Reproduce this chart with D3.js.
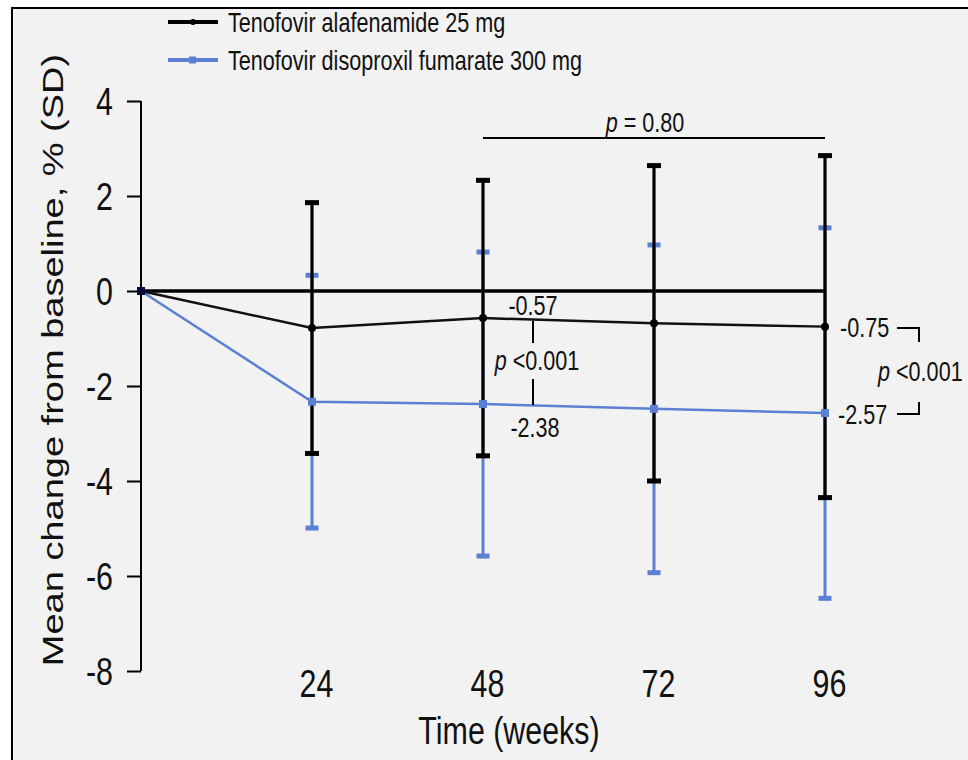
<!DOCTYPE html>
<html>
<head>
<meta charset="utf-8">
<script src="https://cdn.jsdelivr.net/npm/d3@7"></script>
<style>
  body { margin: 0; background: #fff; }
  text { font-family: "Liberation Sans", Arial, sans-serif; fill: #111; }
</style>
</head>
<body>
<div class="chart_wrapper"></div>
<script>
// weeks on treatment and mean % change (SD) per arm
var weeks = [0, 24, 48, 72, 96];
var tafMean = [0, -0.78, -0.57, -0.68, -0.75];
var tafSD = [0, 2.64, 2.9, 3.32, 3.6];
var tdfMean = [0, -2.33, -2.38, -2.48, -2.57];
var tdfSD = [0, 2.66, 3.2, 3.45, 3.9];
var seriesNames = ['Tenofovir alafenamide 25 mg', 'Tenofovir disoproxil fumarate 300 mg'];
var yTicks = [4, 2, 0, -2, -4, -6, -8];
var xTicks = [24, 48, 72, 96];

var width = 968;
var height = 760;
var sx = 0.8; // the source picture is squeezed sideways
var blue = '#5b80d3';

var svg = d3.select('.chart_wrapper').append('svg').attr('width', width).attr('height', height);

svg.append('rect').attr('x', 12).attr('y', 8).attr('width', 970).attr('height', 770)
  .attr('fill', '#f2f2f2').attr('stroke', '#000').attr('stroke-width', 2);

var x = d3.scaleLinear().domain([0, 96]).range([141, 825]);
var y = d3.scaleLinear().domain([-8, 4]).range([671, 101]);

function label(x0, y0, parts, size, anchor) {
  var t = svg.append('text')
    .attr('transform', 'translate(' + x0 + ',' + y0 + ') scale(' + sx + ',1)')
    .attr('font-size', size).attr('text-anchor', anchor || 'start');
  parts.forEach(function (p) {
    t.append('tspan').attr('font-style', p[1] ? 'italic' : null).text(p[0]);
  });
  return t;
}

// y axis
var yAxis = svg.append('g').attr('transform', 'translate(141,0)')
  .call(d3.axisLeft(y).tickValues(yTicks).tickSize(14).tickPadding(0).tickFormat(d3.format('d')));
yAxis.select('.domain').attr('stroke', '#000').attr('stroke-width', 2).attr('d', 'M0,' + y(4) + 'V' + y(-8));
yAxis.selectAll('.tick line').attr('stroke', '#000').attr('stroke-width', 2);
yAxis.selectAll('.tick text').attr('x', -28 / sx).attr('dy', '0.36em')
  .attr('transform', 'scale(' + sx + ',1)').attr('font-size', 38).attr('fill', '#111')
  .attr('font-family', '"Liberation Sans", Arial, sans-serif')
  .text(function (d) { return d < 0 ? '-' + Math.abs(d) : d; });

// x axis: labels only
var xAxis = svg.append('g').attr('transform', 'translate(4,697)')
  .call(d3.axisBottom(x).tickValues(xTicks).tickSize(0).tickPadding(0));
xAxis.select('.domain').remove();
xAxis.selectAll('.tick text').attr('y', 0).attr('dy', 0)
  .attr('transform', 'scale(' + sx + ',1)').attr('font-size', 38).attr('fill', '#111')
  .attr('font-family', '"Liberation Sans", Arial, sans-serif');

label(509, 744, [['Time (weeks)']], 38, 'middle');
svg.append('text').attr('transform', 'translate(63,360) rotate(-90) scale(1,' + sx + ')')
  .attr('font-size', 38).attr('text-anchor', 'middle').text('Mean change from baseline, % (SD)');

// zero reference
svg.append('line').attr('x1', x(0)).attr('x2', x(96)).attr('y1', y(0)).attr('y2', y(0))
  .attr('stroke', '#000').attr('stroke-width', 3.5);

function errorBars(mean, sd, color, capW, lw) {
  var g = svg.append('g');
  weeks.forEach(function (w, i) {
    if (!sd[i]) return;
    var hi = y(mean[i] + sd[i]), lo = y(mean[i] - sd[i]);
    g.append('line').attr('x1', x(w)).attr('x2', x(w)).attr('y1', hi).attr('y2', lo)
      .attr('stroke', color).attr('stroke-width', lw);
    [hi, lo].forEach(function (cy) {
      g.append('rect').attr('x', x(w) - capW / 2).attr('y', cy - 2.5).attr('width', capW).attr('height', 5)
        .attr('fill', color);
    });
  });
}

var line = d3.line().x(function (d) { return x(d[0]); }).y(function (d) { return y(d[1]); });

errorBars(tdfMean, tdfSD, blue, 13, 3);
errorBars(tafMean, tafSD, '#000', 14, 3.2);

svg.append('path').datum(d3.zip(weeks, tdfMean)).attr('d', line)
  .attr('fill', 'none').attr('stroke', blue).attr('stroke-width', 2.5);
svg.append('path').datum(d3.zip(weeks, tafMean)).attr('d', line)
  .attr('fill', 'none').attr('stroke', '#111').attr('stroke-width', 2.5);

svg.selectAll('.tdfpt').data(d3.zip(weeks, tdfMean)).enter().append('rect')
  .attr('x', function (d) { return x(d[0]) - 4; }).attr('y', function (d) { return y(d[1]) - 4; })
  .attr('width', 8).attr('height', 8).attr('fill', blue);
svg.selectAll('.tafpt').data(d3.zip(weeks, tafMean)).enter().append('circle')
  .attr('cx', function (d) { return x(d[0]); }).attr('cy', function (d) { return y(d[1]); })
  .attr('r', 4).attr('fill', '#000');
svg.append('rect').attr('x', x(0) - 4).attr('y', y(0) - 4).attr('width', 8).attr('height', 8).attr('fill', '#0a0a3a');

// legend
[['#000', 22], [blue, 60]].forEach(function (l, i) {
  svg.append('line').attr('x1', 168).attr('x2', 218).attr('y1', l[1]).attr('y2', l[1])
    .attr('stroke', l[0]).attr('stroke-width', 4);
  if (i === 0) svg.append('circle').attr('cx', 193).attr('cy', l[1]).attr('r', 3).attr('fill', l[0]);
  else svg.append('rect').attr('x', 189).attr('y', l[1] - 3.5).attr('width', 7).attr('height', 7).attr('fill', l[0]);
  label(228, l[1] + 10, [[seriesNames[i]]], 27);
});

// annotations
svg.append('line').attr('x1', x(48)).attr('x2', x(96)).attr('y1', 138).attr('y2', 138)
  .attr('stroke', '#000').attr('stroke-width', 2);
label(645, 132, [['p', true], [' = 0.80']], 27, 'middle');

var ax = 533;
label(ax, 315, [['-0.57']], 27, 'middle');
label(ax + 4, 370, [['p', true], [' <0.001']], 27, 'middle');
label(ax + 2, 437, [['-2.38']], 27, 'middle');
svg.append('line').attr('x1', ax).attr('x2', ax).attr('y1', y(tafMean[2]) + 3).attr('y2', 343)
  .attr('stroke', '#000').attr('stroke-width', 2);
svg.append('line').attr('x1', ax).attr('x2', ax).attr('y1', 379).attr('y2', y(tdfMean[2]) + 1)
  .attr('stroke', '#000').attr('stroke-width', 2);

label(840, y(tafMean[4]) + 10, [['-0.75']], 27);
label(838, y(tdfMean[4]) + 11, [['-2.57']], 27);
label(878, 381, [['p', true], [' <0.001']], 27);
svg.append('path').attr('d', 'M897,328H919V342').attr('fill', 'none').attr('stroke', '#000').attr('stroke-width', 2);
svg.append('path').attr('d', 'M897,414H919V402').attr('fill', 'none').attr('stroke', '#000').attr('stroke-width', 2);
</script>
</body>
</html>
